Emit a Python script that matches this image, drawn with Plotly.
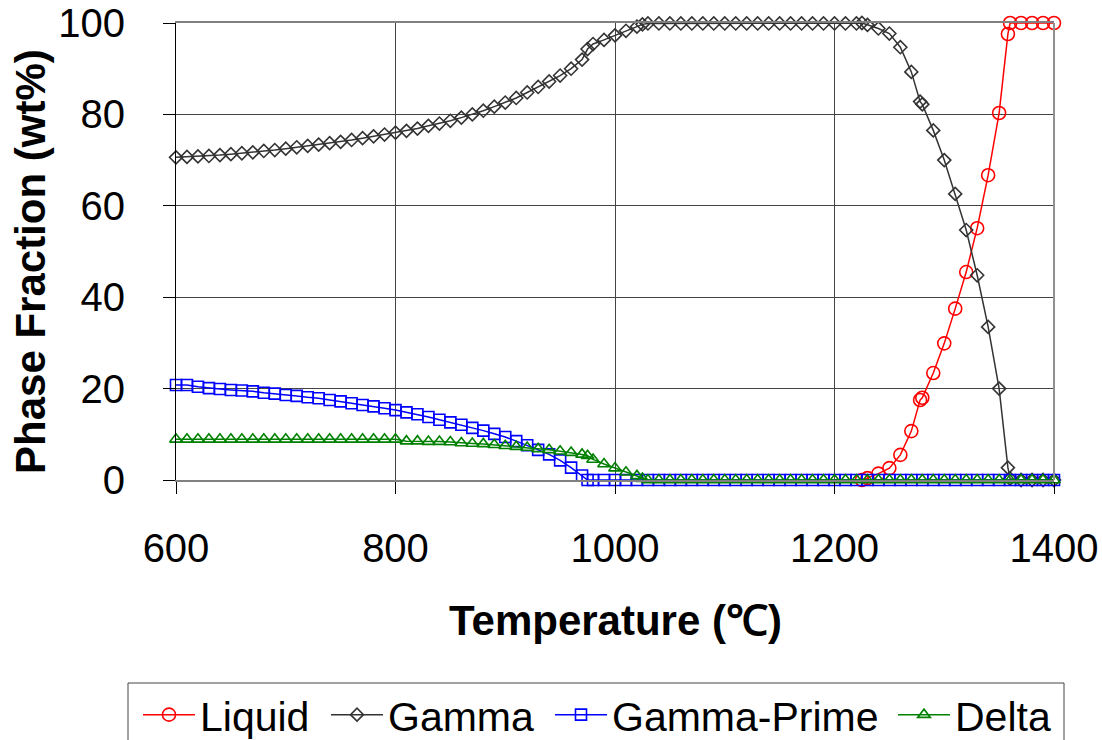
import plotly.graph_objects as go

# ---------------- data ----------------
base_T = [600, 610, 620, 630, 640, 650, 660, 670, 680, 690, 700, 710, 720, 730, 740, 750,
          760, 770, 780, 790, 800, 810, 820, 830, 840, 850, 860, 870, 880, 890, 900, 910,
          920, 930, 940, 950, 960, 970]
plateau_T = [1030, 1040, 1050, 1060, 1070, 1080, 1090, 1100, 1110, 1120, 1130, 1140, 1150,
             1160, 1170, 1180, 1190, 1200, 1210, 1220]

gamma_T = base_T + [975, 980, 990, 1000, 1010, 1020, 1025] + plateau_T + \
    [1225, 1230, 1240, 1250, 1260, 1270, 1278, 1280, 1290, 1300, 1310, 1320, 1330, 1340,
     1350, 1358, 1360, 1370, 1380, 1390, 1400]
gamma_val = [70.6, 70.7, 70.8, 70.9, 71.1, 71.3, 71.5, 71.7, 72.0, 72.2, 72.5, 72.8, 73.1,
             73.4, 73.7, 74.0, 74.4, 74.8, 75.2, 75.6, 76.0, 76.4, 76.9, 77.5, 78.0, 78.6,
             79.3, 80.0, 80.8, 81.7, 82.6, 83.6, 84.8, 86.0, 87.2, 88.5, 90.0, 92.0,
             94.3, 95.4, 96.3, 97.3, 98.3, 99.2, 99.7,
             99.9, 99.9, 99.9, 99.9, 99.9, 99.9, 99.9, 99.9, 99.9, 99.9, 99.9, 99.9, 99.9,
             99.9, 99.9, 99.9, 99.9, 99.9, 99.9, 99.9,
             100.0, 99.6, 98.8, 97.7, 94.7, 89.3, 82.8, 82.2, 76.5, 70.0, 62.6, 54.7, 44.8,
             33.5, 20.0, 2.7, 0.3, 0.0, 0.0, 0.0, 0.0]

liquid_T = [1225, 1230, 1240, 1250, 1260, 1270, 1278, 1280, 1290, 1300, 1310, 1320, 1330,
            1340, 1350, 1358, 1360, 1370, 1380, 1390, 1400]
liquid_val = [0.0, 0.4, 1.4, 2.6, 5.5, 10.7, 17.5, 18.0, 23.4, 29.9, 37.5, 45.5, 55.1,
              66.7, 80.3, 97.6, 100.0, 100.0, 100.0, 100.0, 100.0]

zero_tail_T = [980, 990, 1000, 1010, 1020] + plateau_T + \
    [1230, 1240, 1250, 1260, 1270, 1280, 1290, 1300, 1310, 1320, 1330, 1340, 1350, 1360,
     1370, 1380, 1390, 1400]

gprime_T = base_T + [975] + zero_tail_T
gprime_val = [20.8, 20.8, 20.4, 20.1, 19.9, 19.7, 19.6, 19.4, 19.1, 18.9, 18.6, 18.4, 18.1,
              17.9, 17.5, 17.2, 16.8, 16.4, 16.1, 15.7, 15.3, 14.8, 14.4, 13.8, 13.2, 12.6,
              12.1, 11.4, 10.8, 10.1, 9.4, 8.5, 7.6, 6.6, 5.6, 4.3, 2.7, 1.0,
              0.0] + [0.0] * len(zero_tail_T)

delta_T = base_T + [975, 980, 990, 1000, 1010, 1020, 1025] + plateau_T + \
    [1230, 1240, 1250, 1260, 1270, 1280, 1290, 1300, 1310, 1320, 1330, 1340, 1350, 1360,
     1370, 1380, 1390, 1400]
delta_val = [8.9] * 21 + [8.5, 8.5, 8.4, 8.4, 8.3, 8.1, 8.0, 7.9, 7.7, 7.5, 7.3, 7.1, 6.8,
                          6.6, 6.3, 6.0, 5.6,
                          5.3, 4.5, 3.5, 2.6, 1.7, 0.9, 0.3] + \
    [0.0] * (len(plateau_T) + 18)

x_ticks = [600, 800, 1000, 1200, 1400]
y_ticks = [0, 20, 40, 60, 80, 100]

# ---------------- figure ----------------
FONT = "Liberation Sans, Arial, sans-serif"
L, R, T, B = 176, 48, 23, 260
W, H = 1102, 740
PW, PH = W - L - R, H - T - B


def px_to_paper_x(px):
    return (px - L) / PW


def px_to_paper_y(py):
    return (H - B - py) / PH


fig = go.Figure()

series = [
    ("Liquid", liquid_T, liquid_val, "#FF0000", "circle-open", 13, "legend"),
    ("Gamma", gamma_T, gamma_val, "#333333", "diamond-open", 10, "legend2"),
    ("Gamma-Prime", gprime_T, gprime_val, "#0000FF", "square-open", 11, "legend3"),
    ("Delta", delta_T, delta_val, "#008000", "triangle-up-open", 11, "legend4"),
]
for name, xs, ys, col, sym, sz, lg in series:
    fig.add_trace(go.Scatter(
        x=xs, y=ys, name=name, mode="lines+markers",
        line=dict(color=col, width=1.5),
        marker=dict(symbol=sym, size=sz, color=col, line=dict(color=col, width=1.6)),
        cliponaxis=False, legend=lg,
    ))

legend_symbol_px = [141, 329, 553, 896]
legend_y = px_to_paper_y(715)


def legend_cfg(px):
    return dict(
        orientation="h", x=px_to_paper_x(px - 3), xanchor="left",
        y=legend_y, yanchor="middle",
        font=dict(family=FONT, size=41, color="black"),
        borderwidth=0, bgcolor="rgba(0,0,0,0)", itemwidth=52,
    )


fig.update_layout(
    template="none",
    width=W, height=H,
    margin=dict(l=L, r=R, t=T, b=B, pad=0, autoexpand=False),
    paper_bgcolor="white", plot_bgcolor="white",
    font=dict(family=FONT, color="black", size=40),
    showlegend=True,
    legend=legend_cfg(legend_symbol_px[0]),
    legend2=legend_cfg(legend_symbol_px[1]),
    legend3=legend_cfg(legend_symbol_px[2]),
    legend4=legend_cfg(legend_symbol_px[3]),
)

fig.update_xaxes(
    range=[600, 1400], tickvals=x_ticks, ticktext=[str(v) for v in x_ticks],
    showgrid=True, gridcolor="#444444", gridwidth=1,
    showline=True, linecolor="#808080", linewidth=2, mirror=True,
    ticks="outside", ticklen=12, tickcolor="black", tickwidth=1,
    tickfont=dict(family=FONT, size=40, color="black"),
    ticklabelstandoff=20, automargin=False,
    zeroline=False,
)
fig.update_yaxes(
    range=[0, 100], tickvals=y_ticks, ticktext=[str(v) for v in y_ticks],
    showgrid=True, gridcolor="#444444", gridwidth=1,
    showline=True, linecolor="black", linewidth=1, mirror=False,
    ticks="outside", ticklen=12, tickcolor="black", tickwidth=1,
    tickfont=dict(family=FONT, size=40, color="black"),
    ticklabelstandoff=30, automargin=False,
    zeroline=False,
)

# right border (gray) of plotting area
fig.add_shape(type="line", xref="paper", yref="paper", x0=1, x1=1, y0=0, y1=1,
              line=dict(color="#909090", width=2))
# legend frame
fig.add_shape(type="rect", xref="paper", yref="paper",
              x0=px_to_paper_x(128), x1=px_to_paper_x(1064),
              y0=px_to_paper_y(760), y1=px_to_paper_y(683),
              line=dict(color="#444444", width=1), fillcolor="rgba(0,0,0,0)", layer="below")

# axis titles
fig.add_annotation(text="<b>Temperature (℃)</b>", xref="paper", yref="paper",
                   x=0.5, y=px_to_paper_y(620), xanchor="center", yanchor="middle",
                   showarrow=False, font=dict(family=FONT, size=42, color="black"))
fig.add_annotation(text="<b>Phase Fraction (wt%)</b>", xref="paper", yref="paper",
                   x=px_to_paper_x(30), y=px_to_paper_y(262), xanchor="center",
                   yanchor="middle", showarrow=False, textangle=-90,
                   font=dict(family=FONT, size=42, color="black"))

fig.write_html("out.html")
